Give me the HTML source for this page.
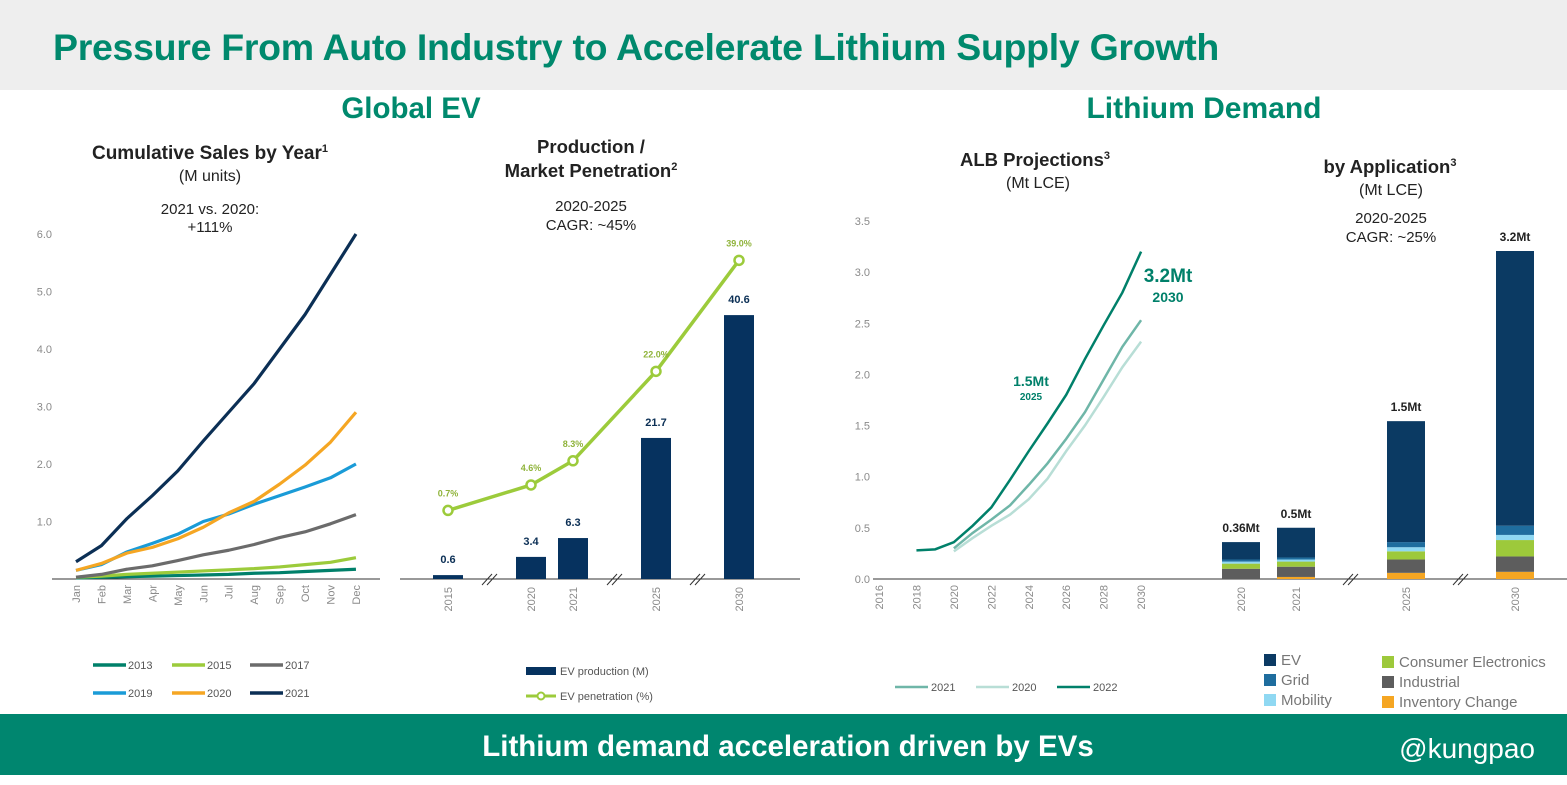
<!DOCTYPE html>
<html><head><meta charset="utf-8">
<style>
html,body{margin:0;padding:0;width:1567px;height:785px;overflow:hidden;background:#fff;font-family:"Liberation Sans",Arial,sans-serif}
svg{display:block}
</style></head>
<body>
<svg id="s" width="1567" height="785" viewBox="0 0 1567 785" xmlns="http://www.w3.org/2000/svg" font-family="Liberation Sans, Arial, sans-serif">
<rect x="0" y="0" width="1567" height="90" fill="#eeeeee"/>
<text x="53" y="60" font-size="37.5" font-weight="bold" fill="#00896d" letter-spacing="-0.3">Pressure From Auto Industry to Accelerate Lithium Supply Growth</text>
<text x="411" y="118" font-size="29.5" font-weight="bold" fill="#00896d" text-anchor="middle">Global EV</text>
<text x="1204" y="118" font-size="30" font-weight="bold" fill="#00896d" text-anchor="middle">Lithium Demand</text>

<g fill="#222" text-anchor="middle">
<text x="210" y="159" font-size="19" font-weight="bold">Cumulative Sales by Year<tspan font-size="11" dy="-7">1</tspan></text>
<text x="210" y="181" font-size="16">(M units)</text>
<text x="210" y="214" font-size="15">2021 vs. 2020:</text>
<text x="210" y="232" font-size="15">+111%</text>
<text x="591" y="153" font-size="18.5" font-weight="bold">Production /</text>
<text x="591" y="177" font-size="18.5" font-weight="bold">Market Penetration<tspan font-size="11" dy="-7">2</tspan></text>
<text x="591" y="211" font-size="15">2020-2025</text>
<text x="591" y="230" font-size="15">CAGR: ~45%</text>
<text x="1035" y="166" font-size="18.5" font-weight="bold">ALB Projections<tspan font-size="11" dy="-7">3</tspan></text>
<text x="1038" y="188" font-size="16">(Mt LCE)</text>
<text x="1390" y="173" font-size="18.5" font-weight="bold">by Application<tspan font-size="11" dy="-7">3</tspan></text>
<text x="1391" y="195" font-size="16">(Mt LCE)</text>
<text x="1391" y="223" font-size="15">2020-2025</text>
<text x="1391" y="242" font-size="15">CAGR: ~25%</text>
</g>

<g id="c1"></g>
<g id="c2"></g>
<g id="c3"></g>
<g id="c4"></g>

<rect x="0" y="714" width="1567" height="61" fill="#00866f"/>
<text x="788" y="756" font-size="29.5" font-weight="bold" fill="#fff" text-anchor="middle">Lithium demand acceleration driven by EVs</text>
<text x="1535" y="758" font-size="28" fill="#fff" text-anchor="end">@kungpao</text>
</svg>
<script>
// ---- Chart 1: cumulative sales ----
const months = ["Jan","Feb","Mar","Apr","May","Jun","Jul","Aug","Sep","Oct","Nov","Dec"];
const years1 = ["2013","2015","2017","2019","2020","2021"];
const s2013 = [0.02,0.03,0.04,0.05,0.06,0.07,0.08,0.10,0.11,0.13,0.15,0.17];
const s2015 = [0.03,0.05,0.08,0.10,0.12,0.14,0.16,0.18,0.21,0.25,0.29,0.37];
const s2017 = [0.03,0.08,0.17,0.23,0.32,0.42,0.50,0.60,0.72,0.82,0.96,1.12];
const s2019 = [0.15,0.25,0.47,0.62,0.78,1.00,1.13,1.30,1.45,1.60,1.76,2.00];
const s2020 = [0.15,0.27,0.45,0.55,0.70,0.90,1.15,1.35,1.65,1.98,2.38,2.90];
const s2021 = [0.30,0.58,1.05,1.45,1.88,2.40,2.90,3.40,4.00,4.60,5.30,6.00];
const ticks1 = ["1.0","2.0","3.0","4.0","5.0","6.0"];
// ---- Chart 2: production / penetration ----
const prodYears = ["2015","2020","2021","2025","2030"];
const prodVals = [0.6,3.4,6.3,21.7,40.6];
const prodLabels = ["0.6","3.4","6.3","21.7","40.6"];
const penVals = [0.7,4.6,8.3,22.0,39.0];
const penLabels = ["0.7%","4.6%","8.3%","22.0%","39.0%"];
// ---- Chart 3: ALB projections ----
const albYears = [2016,2018,2020,2022,2024,2026,2028,2030];
const yr2022 = [2018,2019,2020,2021,2022,2023,2024,2025,2026,2027,2028,2029,2030];
const v2022 = [0.28,0.29,0.36,0.52,0.70,0.97,1.25,1.52,1.80,2.15,2.48,2.80,3.20];
const yrFwd = [2020,2021,2022,2023,2024,2025,2026,2027,2028,2029,2030];
const v2021 = [0.30,0.45,0.58,0.72,0.92,1.13,1.37,1.63,1.95,2.27,2.53];
const v2020 = [0.27,0.40,0.52,0.63,0.78,0.98,1.25,1.50,1.78,2.07,2.32];
const ticks3 = ["0.0","0.5","1.0","1.5","2.0","2.5","3.0","3.5"];
// ---- Chart 4: by application ----
const appYears = ["2020","2021","2025","2030"];
const appTotals = ["0.36Mt","0.5Mt","1.5Mt","3.2Mt"];
const appInventory = [0.00,0.02,0.06,0.07];
const appIndustrial = [0.10,0.10,0.13,0.15];
const appConsumer = [0.05,0.05,0.08,0.16];
const appMobility = [0.02,0.02,0.04,0.05];
const appGrid = [0.02,0.02,0.05,0.09];
const appEV = [0.17,0.29,1.18,2.68];

const NS="http://www.w3.org/2000/svg";
function mk(parent,tag,attrs,txt){const e=document.createElementNS(NS,tag);for(const k in attrs)e.setAttribute(k,attrs[k]);if(txt!==undefined)e.textContent=txt;parent.appendChild(e);return e;}
const gray="#8a8a8a";

// Chart 1
(function(){
const g=document.getElementById('c1');
const y=v=>579-v*57.5, x=i=>76+i*25.45;
ticks1.forEach(t=>{const e=mk(g,'text',{x:52,y:y(+t)+4,'font-size':11,fill:gray,'text-anchor':'end'},t);

});
const ax=mk(g,'line',{x1:52,y1:579,x2:380,y2:579,stroke:'#333','stroke-width':1});


months.forEach((m,i)=>{const e=mk(g,'text',{transform:`translate(${x(i)+4},585) rotate(-90)`,'font-size':11,fill:gray,'text-anchor':'end'},m);

});
const series=[s2013,s2015,s2017,s2019,s2020,s2021];
const cols=["#00806a","#9ccb3b","#6b6b6b","#1a9bd7","#f5a623","#0b2f55"];
series.forEach((s,k)=>{const p=mk(g,'polyline',{points:s.map((v,i)=>x(i)+','+y(v)).join(' '),fill:'none',stroke:cols[k],'stroke-width':3.2,'stroke-linejoin':'round'});

});
const lx=[93,172,250];
years1.forEach((yr,k)=>{const cx=lx[k%3], cy=k<3?665:693;
const l=mk(g,'line',{x1:cx,y1:cy,x2:cx+33,y2:cy,stroke:cols[k],'stroke-width':3.5});


const t=mk(g,'text',{x:cx+35,y:cy+4,'font-size':11,fill:'#555'},yr);

});
})();

// Chart 2
(function(){
const g=document.getElementById('c2');
const cx=[448,531,573,656,739];
const yb=v=>579-v*6.5, yp=v=>515-v*6.53;
const ax=mk(g,'line',{x1:400,y1:579,x2:800,y2:579,stroke:'#333','stroke-width':1});


[489,614,697].forEach(bx=>{[0,5].forEach(o=>{const b=mk(g,'line',{x1:bx-7+o,y1:585,x2:bx+3+o,y2:574,stroke:'#333','stroke-width':1});

});});
prodVals.forEach((v,i)=>{
const r=mk(g,'rect',{x:cx[i]-15,y:yb(v),width:30,height:579-yb(v),fill:'#06325f'});


const t=mk(g,'text',{x:cx[i],y:yb(v)-12,'font-size':11,'font-weight':'bold',fill:'#0b2f55','text-anchor':'middle'},prodLabels[i]);


const xl=mk(g,'text',{transform:`translate(${cx[i]+4},587) rotate(-90)`,'font-size':11,fill:gray,'text-anchor':'end'},prodYears[i]);


});
const pl=mk(g,'polyline',{points:penVals.map((v,i)=>cx[i]+','+yp(v)).join(' '),fill:'none',stroke:'#9ccb3b','stroke-width':3.5});


penVals.forEach((v,i)=>{
const c=mk(g,'circle',{cx:cx[i],cy:yp(v),r:4.5,fill:'#fff',stroke:'#9ccb3b','stroke-width':2.5});


const t=mk(g,'text',{x:cx[i],y:yp(v)-14,'font-size':9,'font-weight':'bold',fill:'#8fb33a','text-anchor':'middle'},penLabels[i]);


});
const lr=mk(g,'rect',{x:526,y:667,width:30,height:8,fill:'#06325f'});


const lt=mk(g,'text',{x:560,y:675,'font-size':11,fill:'#555'},'EV production (M)');


const ll=mk(g,'line',{x1:526,y1:696,x2:556,y2:696,stroke:'#9ccb3b','stroke-width':3});


const lc=mk(g,'circle',{cx:541,cy:696,r:3.5,fill:'#fff',stroke:'#9ccb3b','stroke-width':2});


const lt2=mk(g,'text',{x:560,y:700,'font-size':11,fill:'#555'},'EV penetration (%)');


})();

// Chart 3
(function(){
const g=document.getElementById('c3');
const x=yr=>879+(yr-2016)*18.72, y=v=>579-v*102.3;
ticks3.forEach(t=>{const e=mk(g,'text',{x:870,y:y(+t)+4,'font-size':11,fill:gray,'text-anchor':'end'},t);

});
const ax=mk(g,'line',{x1:873,y1:579,x2:1210,y2:579,stroke:'#333','stroke-width':1});


albYears.forEach(yr=>{const e=mk(g,'text',{transform:`translate(${x(yr)+4},585) rotate(-90)`,'font-size':11,fill:gray,'text-anchor':'end'},String(yr));

});
const specs=[[yrFwd,v2020,'#b8ded6','2020'],[yrFwd,v2021,'#6fb6a8','2021'],[yr2022,v2022,'#00806a','2022']];
specs.forEach(sp=>{const p=mk(g,'polyline',{points:sp[0].map((yr,i)=>x(yr)+','+y(sp[1][i])).join(' '),fill:'none',stroke:sp[2],'stroke-width':2.5});

});
const a1=mk(g,'text',{x:1031,y:386,'font-size':14,'font-weight':'bold',fill:'#00806a','text-anchor':'middle'},'1.5Mt');


const a2=mk(g,'text',{x:1031,y:400,'font-size':10,'font-weight':'bold',fill:'#00806a','text-anchor':'middle'},'2025');


const a3=mk(g,'text',{x:1168,y:282,'font-size':19,'font-weight':'bold',fill:'#00806a','text-anchor':'middle'},'3.2Mt');


const a4=mk(g,'text',{x:1168,y:302,'font-size':14,'font-weight':'bold',fill:'#00806a','text-anchor':'middle'},'2030');


[[895,'2021','#6fb6a8'],[976,'2020','#b8ded6'],[1057,'2022','#00806a']].forEach(l=>{
const ln=mk(g,'line',{x1:l[0],y1:687,x2:l[0]+33,y2:687,stroke:l[2],'stroke-width':2.5});


const t=mk(g,'text',{x:l[0]+36,y:691,'font-size':11,fill:'#555'},l[1]);

});
})();

// Chart 4
(function(){
const g=document.getElementById('c4');
const cx=[1241,1296,1406,1515];
const sc=102.5;
const ax=mk(g,'line',{x1:1200,y1:579,x2:1567,y2:579,stroke:'#333','stroke-width':1});


[1350,1460].forEach(bx=>{[0,5].forEach(o=>{const b=mk(g,'line',{x1:bx-7+o,y1:585,x2:bx+3+o,y2:574,stroke:'#333','stroke-width':1});

});});
const layers=[[appInventory,'#f5a623','inventory'],[appIndustrial,'#5d5d5d','industrial'],[appConsumer,'#9dc93b','consumer-electronics'],[appMobility,'#8fd8f2','mobility'],[appGrid,'#1f6d9e','grid'],[appEV,'#0b3a63','ev']];
appYears.forEach((yr,i)=>{let base=579;
layers.forEach(L=>{const h=L[0][i]*sc;if(h>0){const r=mk(g,'rect',{x:cx[i]-19,y:base-h,width:38,height:h,fill:L[1]});

}base-=h;});
const t=mk(g,'text',{x:cx[i],y:base-10,'font-size':12,'font-weight':'bold',fill:'#222','text-anchor':'middle'},appTotals[i]);


const xl=mk(g,'text',{transform:`translate(${cx[i]+4},587) rotate(-90)`,'font-size':11,fill:gray,'text-anchor':'end'},yr);


});
const leg=[[1264,660,'#0b3a63','EV'],[1264,680,'#1f6d9e','Grid'],[1264,700,'#8fd8f2','Mobility'],[1382,662,'#9dc93b','Consumer Electronics'],[1382,682,'#5d5d5d','Industrial'],[1382,702,'#f5a623','Inventory Change']];
leg.forEach(l=>{const r=mk(g,'rect',{x:l[0],y:l[1]-6,width:12,height:12,fill:l[2]});


const t=mk(g,'text',{x:l[0]+17,y:l[1]+5,'font-size':15,fill:'#777'},l[3]);

});
})();
</script>
</body></html>
